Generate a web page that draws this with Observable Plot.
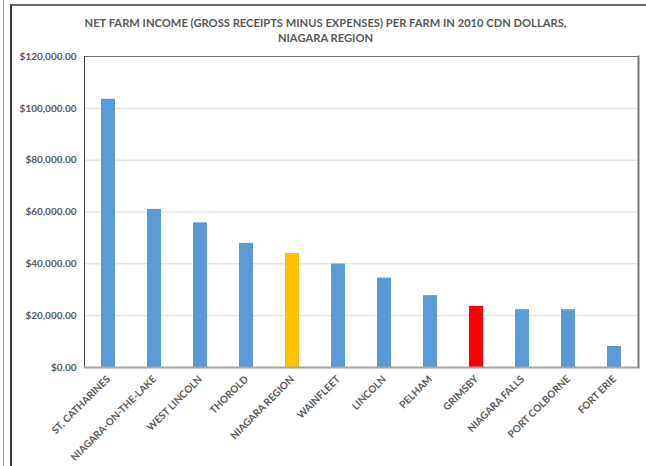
<!DOCTYPE html>
<html>
<head>
<meta charset="utf-8">
<script src="https://cdn.jsdelivr.net/npm/d3@7"></script>
<script src="https://cdn.jsdelivr.net/npm/@observablehq/plot@0.6"></script>
<style>
  html, body { margin: 0; padding: 0; background: #fff; }
  #wrap { position: relative; width: 646px; height: 466px; overflow: hidden; }
  #outer1 { position: absolute; left: 3px; top: 0; width: 0; height: 466px; border-left: 1px solid #9a9a9a; }
  #outer2 { position: absolute; left: 10px; top: 4px; width: 640px; height: 470px; border-left: 2px solid #3a3a3a; border-top: 2px solid #6a6a6a; }
  #chart { position: absolute; left: 0; top: 0; }
</style>
</head>
<body>
<div id="wrap">
  <div id="outer1"></div>
  <div id="outer2"></div>
  <div id="chart"></div>
</div>
<script>
const categories = ["ST. CATHARINES", "NIAGARA-ON-THE-LAKE", "WEST LINCOLN", "THOROLD", "NIAGARA REGION", "WAINFLEET", "LINCOLN", "PELHAM", "GRIMSBY", "NIAGARA FALLS", "PORT COLBORNE", "FORT ERIE"];
const values = [103500, 61000, 55800, 47900, 44000, 39900, 34500, 27700, 23600, 22300, 22300, 8100];
const groups = ["town", "town", "town", "town", "region", "town", "town", "town", "highlight", "town", "town", "town"];
const yTicks = [0, 20000, 40000, 60000, 80000, 100000, 120000];
const titleLines = ["NET FARM INCOME (GROSS RECEIPTS MINUS EXPENSES) PER FARM IN 2010 CDN DOLLARS,", "NIAGARA REGION"];

const data = categories.map((c, i) => ({category: c, value: values[i], group: groups[i]}));
const fmt = d => "$" + d3.format(",.2f")(d);
const font = "Lato, 'Open Sans', sans-serif";

const plot = Plot.plot({
  width: 646,
  height: 466,
  marginLeft: 84,
  marginRight: 8,
  marginTop: 56,
  marginBottom: 99,
  style: {fontFamily: font, fontSize: "10px", fontWeight: "bold", color: "#595959", background: "transparent", overflow: "visible"},
  x: {domain: categories, paddingInner: 0.69, paddingOuter: 0.345, label: null, tickSize: 0, tickPadding: 10, tickRotate: -45},
  y: {domain: [0, 120000], ticks: yTicks, tickFormat: fmt, label: null, tickSize: 0, tickPadding: 8},
  color: {domain: ["town", "region", "highlight"], range: ["#5b9bd5", "#ffc000", "#ff0000"]},
  marks: [
    Plot.gridY(yTicks.filter(d => d > 0 && d < 120000), {stroke: "#d9d9d9", strokeOpacity: 1, strokeWidth: 1}),
    Plot.barY(data, {x: "category", y: "value", fill: "group"}),
    Plot.frame({anchor: "top", stroke: "#707070", strokeWidth: 1}),
    Plot.frame({anchor: "right", stroke: "#7a7a7a", strokeWidth: 2}),
    Plot.frame({anchor: "left", stroke: "#404040", strokeWidth: 1}),
    Plot.ruleY([0], {stroke: "#a6a6a6", strokeWidth: 2}),
    Plot.text([titleLines[0]], {text: d => d, frameAnchor: "top", dx: -36, dy: -37, fontSize: 11.2, fontWeight: "bold", fill: "#595959"}),
    Plot.text([titleLines[1]], {text: d => d, frameAnchor: "top", dx: -36, dy: -22, fontSize: 11.2, fontWeight: "bold", fill: "#595959"})
  ]
});
document.getElementById("chart").appendChild(plot);
</script>
</body>
</html>
